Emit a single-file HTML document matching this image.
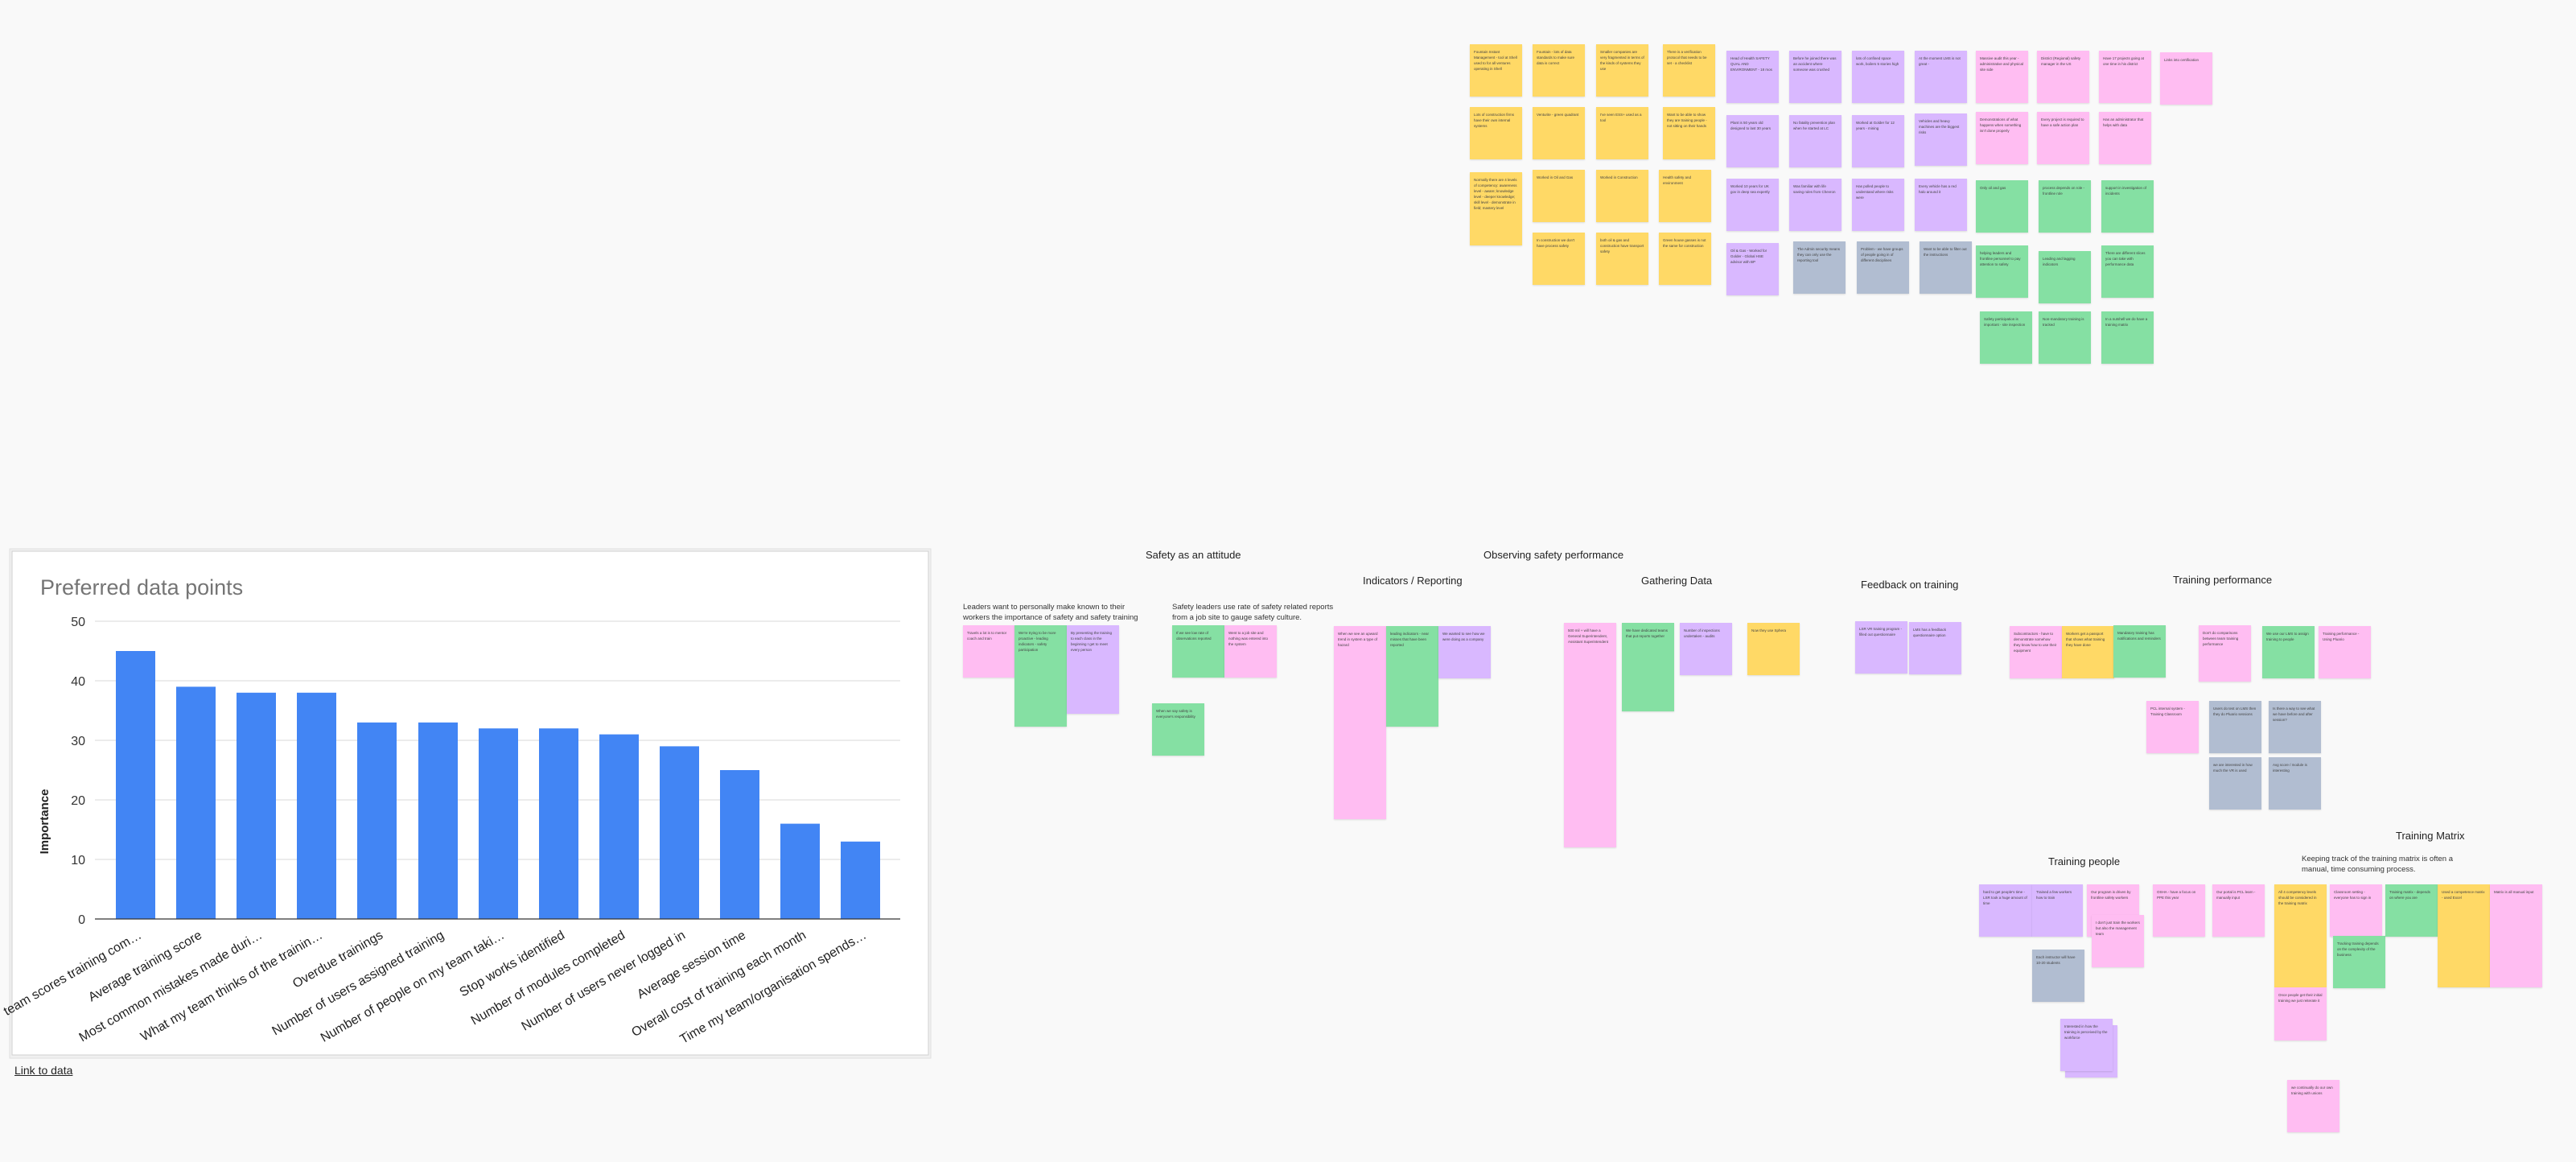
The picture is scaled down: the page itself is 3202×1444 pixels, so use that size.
<!DOCTYPE html>
<html><head><meta charset="utf-8">
<style>
html,body{margin:0;padding:0;}
body{width:3202px;height:1444px;background:#f9f9f9;position:relative;overflow:hidden;font-family:"Liberation Sans",sans-serif;}
.n{position:absolute;width:65px;height:65px;box-shadow:0 1px 2px rgba(0,0,0,0.12);font-size:4.5px;line-height:7px;color:#444;padding:6px 5px;box-sizing:border-box;overflow:hidden;}
.y{background:#ffd966}.p{background:#d9b8ff}.k{background:#ffbdf2}.g{background:#85e0a3}.s{background:#b1bdd1}
.h{position:absolute;font-size:13px;color:#222;white-space:nowrap;}
.t{position:absolute;font-size:9.5px;line-height:12.5px;color:#333;white-space:nowrap;}
</style></head><body>

<!-- chart -->
<svg style="position:absolute;left:0;top:680px" width="1160" height="660" font-family="Liberation Sans, sans-serif">
<rect x="12" y="2" width="1145" height="633" fill="#f0f0f0" stroke="#e0e0e0"/>
<rect x="15" y="5" width="1139" height="626" fill="#fff" stroke="#cfcfcf"/>
<text x="50" y="59" font-size="27" fill="#757575">Preferred data points</text>
<g stroke="#d9d9d9" stroke-width="1">
<line x1="118" x2="1119" y1="92" y2="92"/><line x1="118" x2="1119" y1="166" y2="166"/>
<line x1="118" x2="1119" y1="240" y2="240"/><line x1="118" x2="1119" y1="314" y2="314"/>
<line x1="118" x2="1119" y1="388" y2="388"/>
</g>
<g font-size="16" fill="#333" text-anchor="end">
<text x="106" y="98">50</text><text x="106" y="172">40</text><text x="106" y="246">30</text>
<text x="106" y="320">20</text><text x="106" y="394">10</text><text x="106" y="468">0</text>
</g>
<text transform="translate(60,341) rotate(-90)" text-anchor="middle" font-size="15" font-weight="bold" fill="#222">Importance</text>
<g fill="#4285f4">
<rect x="144" y="129" width="49" height="333"/>
<rect x="219" y="173.4" width="49" height="288.6"/>
<rect x="294" y="180.8" width="49" height="281.2"/>
<rect x="369" y="180.8" width="49" height="281.2"/>
<rect x="444" y="217.8" width="49" height="244.2"/>
<rect x="520" y="217.8" width="49" height="244.2"/>
<rect x="595" y="225.2" width="49" height="236.8"/>
<rect x="670" y="225.2" width="49" height="236.8"/>
<rect x="745" y="232.6" width="49" height="229.4"/>
<rect x="820" y="247.4" width="49" height="214.6"/>
<rect x="895" y="277" width="49" height="185"/>
<rect x="970" y="343.6" width="49" height="118.4"/>
<rect x="1045" y="365.8" width="49" height="96.2"/>
</g>
<line x1="118" x2="1119" y1="462" y2="462" stroke="#333" stroke-width="1.3"/>
<g font-size="16" fill="#222" text-anchor="end">
<text transform="translate(177,485) rotate(-30)">team scores training com…</text>
<text transform="translate(252,485) rotate(-30)">Average training score</text>
<text transform="translate(327,485) rotate(-30)">Most common mistakes made duri…</text>
<text transform="translate(402,485) rotate(-30)">What my team thinks of the trainin…</text>
<text transform="translate(477,485) rotate(-30)">Overdue trainings</text>
<text transform="translate(553,485) rotate(-30)">Number of users assigned training</text>
<text transform="translate(628,485) rotate(-30)">Number of people on my team taki…</text>
<text transform="translate(703,485) rotate(-30)">Stop works identified</text>
<text transform="translate(778,485) rotate(-30)">Number of modules completed</text>
<text transform="translate(853,485) rotate(-30)">Number of users never logged in</text>
<text transform="translate(928,485) rotate(-30)">Average session time</text>
<text transform="translate(1003,485) rotate(-30)">Overall cost of training each month</text>
<text transform="translate(1078,485) rotate(-30)">Time my team/organisation spends…</text>
</g>
</svg>
<div style="position:absolute;left:18px;top:1322px;font-size:14px;color:#222;text-decoration:underline">Link to data</div>

<!-- top cluster: yellow -->
<div class="n y" style="left:1827px;top:55px">Fountain Instant Management - tool at Shell used to for all ventures operating in Shell</div>
<div class="n y" style="left:1905px;top:55px">Fountain - lots of data standards to make sure data is correct</div>
<div class="n y" style="left:1984px;top:55px">Smaller companies are very fragmented in terms of the kinds of systems they use</div>
<div class="n y" style="left:2067px;top:55px">There is a verification protocol that needs to be set - a checklist</div>
<div class="n y" style="left:1827px;top:133px">Lots of construction firms have their own internal systems</div>
<div class="n y" style="left:1905px;top:133px">Venturite - green quadrant</div>
<div class="n y" style="left:1984px;top:133px">I've seen ESS+ used as a tool</div>
<div class="n y" style="left:2067px;top:133px">Want to be able to show they are training people - not sitting on their hands</div>
<div class="n y" style="left:1827px;top:214px;height:91px">Normally there are 4 levels of competency: awareness level - aware; knowledge level - deeper knowledge; skill level - demonstrate in field; mastery level</div>
<div class="n y" style="left:1905px;top:211px">Worked in Oil and Gas</div>
<div class="n y" style="left:1984px;top:211px">Worked in Construction</div>
<div class="n y" style="left:2062px;top:211px">Health safety and environment</div>
<div class="n y" style="left:1905px;top:289px">In construction we don't have process safety</div>
<div class="n y" style="left:1984px;top:289px">both oil &amp; gas and construction have transport safety</div>
<div class="n y" style="left:2062px;top:289px">Green house gasses is not the same for construction</div>

<!-- purple -->
<div class="n p" style="left:2146px;top:63px">Head of Health SAFETY QUAL AND ENVIRONMENT - 18 mos</div>
<div class="n p" style="left:2224px;top:63px">Before he joined there was an accident where someone was crushed</div>
<div class="n p" style="left:2302px;top:63px">lots of confined space work, boilers 5 stories high</div>
<div class="n p" style="left:2380px;top:63px">At the moment LMS is not great -</div>
<div class="n p" style="left:2146px;top:143px">Plant is 50 years old designed to last 30 years</div>
<div class="n p" style="left:2224px;top:143px">No fatality prevention plan when he started at LC</div>
<div class="n p" style="left:2302px;top:143px">Worked at Golder for 12 years - mining</div>
<div class="n p" style="left:2380px;top:141px">Vehicles and heavy machines are the biggest risks</div>
<div class="n p" style="left:2146px;top:222px">Worked 10 years for UK gov in deep sea expertly</div>
<div class="n p" style="left:2224px;top:222px">Was familiar with life saving rules from Chevron</div>
<div class="n p" style="left:2302px;top:222px">Has polled people to understand where risks were</div>
<div class="n p" style="left:2380px;top:222px">Every vehicle has a red halo around it</div>
<div class="n p" style="left:2146px;top:302px">Oil &amp; Gas - Worked for Golder - Global HSE advisor with BP</div>
<div class="n s" style="left:2229px;top:300px">The Admin security means they can only use the reporting tool</div>
<div class="n s" style="left:2308px;top:300px">Problem - we have groups of people going in of different disciplines</div>
<div class="n s" style="left:2386px;top:300px">Want to be able to filter out the instructions</div>

<!-- pink & green top -->
<div class="n k" style="left:2456px;top:63px">Massive audit this year - administrative and physical site side</div>
<div class="n k" style="left:2532px;top:63px">District (Regional) safety manager in the US</div>
<div class="n k" style="left:2609px;top:63px">Have 17 projects going at one time in his district</div>
<div class="n k" style="left:2685px;top:65px">Links into certification</div>
<div class="n k" style="left:2456px;top:139px">Demonstrations of what happens when something isn't done properly</div>
<div class="n k" style="left:2532px;top:139px">Every project is required to have a safe action plan</div>
<div class="n k" style="left:2609px;top:139px">Has an administrator that helps with data</div>
<div class="n g" style="left:2456px;top:224px">Only oil and gas</div>
<div class="n g" style="left:2534px;top:224px">process depends on role - frontline role</div>
<div class="n g" style="left:2612px;top:224px">support in investigation of incidents</div>
<div class="n g" style="left:2456px;top:305px">helping leaders and frontline personnel to pay attention to safety</div>
<div class="n g" style="left:2534px;top:312px">Leading and lagging indicators</div>
<div class="n g" style="left:2612px;top:305px">There are different slices you can take with performance data</div>
<div class="n g" style="left:2461px;top:387px">Safety participation is important - site inspection</div>
<div class="n g" style="left:2534px;top:387px">Non-mandatory training is tracked</div>
<div class="n g" style="left:2612px;top:387px">In a nutshell we do have a training matrix</div>

<!-- lower middle -->
<div class="h" style="left:1424px;top:682px">Safety as an attitude</div>
<div class="h" style="left:1844px;top:682px">Observing safety performance</div>
<div class="h" style="left:1694px;top:714px">Indicators / Reporting</div>
<div class="h" style="left:2040px;top:714px">Gathering Data</div>
<div class="t" style="left:1197px;top:749px">Leaders want to personally make known to their<br>workers the importance of safety and safety training</div>
<div class="t" style="left:1457px;top:749px">Safety leaders use rate of safety related reports<br>from a job site to gauge safety culture.</div>

<div class="n k" style="left:1197px;top:777px">Travels a lot is to mentor coach and train</div>
<div class="n g" style="left:1261px;top:777px;height:126px">We're trying to be more proactive - leading indicators - safety participation</div>
<div class="n p" style="left:1326px;top:777px;height:110px">By presenting the training to each class in the beginning I get to meet every person</div>
<div class="n g" style="left:1457px;top:777px">If we see low rate of observations reported</div>
<div class="n k" style="left:1522px;top:777px">Went to a job site and nothing was entered into the system</div>
<div class="n g" style="left:1432px;top:874px">When we say safety is everyone's responsibility</div>

<div class="n k" style="left:1658px;top:778px;height:240px">When we see an upward trend in system a type of hazard</div>
<div class="n g" style="left:1723px;top:778px;height:125px">leading indicators - near misses that have been reported</div>
<div class="n p" style="left:1788px;top:778px">We wanted to see how we were doing as a company</div>

<div class="n k" style="left:1944px;top:774px;height:279px">500 mil + will have a General Superintendent, Assistant Superintendent</div>
<div class="n g" style="left:2016px;top:774px;height:110px">We have dedicated teams that put reports together</div>
<div class="n p" style="left:2088px;top:774px">Number of inspections undertaken - audits</div>
<div class="n y" style="left:2172px;top:774px">Now they use Sphera</div>

<div class="h" style="left:2313px;top:719px">Feedback on training</div>
<div class="n p" style="left:2306px;top:772px">LSR VR training program - filled out questionnaire</div>
<div class="n p" style="left:2373px;top:773px">LMS has a feedback questionnaire option</div>

<div class="h" style="left:2701px;top:713px">Training performance</div>
<div class="n k" style="left:2498px;top:778px">Subcontractors - have to demonstrate somehow they know how to use their equipment</div>
<div class="n y" style="left:2563px;top:778px">Workers get a passport that shows what training they have done</div>
<div class="n g" style="left:2627px;top:777px">Mandatory training has notifications and reminders</div>
<div class="n k" style="left:2733px;top:777px;height:70px">Don't do comparisons between team training performance</div>
<div class="n g" style="left:2812px;top:778px">We use our LMS to assign training to people</div>
<div class="n k" style="left:2882px;top:778px">Training performance - Using Pluario</div>
<div class="n k" style="left:2668px;top:871px">PCL internal system - Training Classroom</div>
<div class="n s" style="left:2746px;top:871px">Users do test on LMS then they do Pluario sessions</div>
<div class="n s" style="left:2820px;top:871px">Is there a way to see what we have before and after session?</div>
<div class="n s" style="left:2746px;top:941px">we are interested in how much the VR is used</div>
<div class="n s" style="left:2820px;top:941px">Avg score / module is interesting</div>

<!-- bottom right -->
<div class="h" style="left:2978px;top:1031px">Training Matrix</div>
<div class="h" style="left:2546px;top:1063px">Training people</div>
<div class="t" style="left:2861px;top:1062px">Keeping track of the training matrix is often a<br>manual, time consuming process.</div>

<div class="n p" style="left:2460px;top:1099px;width:66px">hard to get people's time - LSR took a huge amount of time</div>
<div class="n p" style="left:2526px;top:1099px;width:63px">Trained a few workers how to train</div>
<div class="n k" style="left:2594px;top:1099px">Our program is driven by frontline safety workers</div>
<div class="n k" style="left:2600px;top:1137px">I don't just train the workers but also the management team</div>
<div class="n s" style="left:2526px;top:1180px">Each instructor will have 10-20 students</div>
<div class="n p" style="left:2567px;top:1274px"></div>
<div class="n p" style="left:2561px;top:1266px">Interested in how the training is perceived by the workforce</div>
<div class="n k" style="left:2676px;top:1099px">OSHA - have a focus on PPE this year</div>
<div class="n k" style="left:2750px;top:1099px">Our portal is PCL learn - manually input</div>
<div class="n y" style="left:2827px;top:1099px;height:128px">All 4 competency levels should be considered in the training matrix</div>
<div class="n k" style="left:2827px;top:1227px;height:66px">Once people get their initial training we just reiterate it</div>
<div class="n k" style="left:2896px;top:1099px">Classroom setting - everyone has to sign in</div>
<div class="n g" style="left:2900px;top:1163px">Tracking training depends on the complexity of the business</div>
<div class="n g" style="left:2965px;top:1099px">Training matrix - depends on where you are</div>
<div class="n y" style="left:3030px;top:1099px;height:128px">Used a competence matrix - used Excel</div>
<div class="n k" style="left:3095px;top:1099px;height:128px">Matrix is all manual input</div>
<div class="n k" style="left:2843px;top:1342px">we continually do our own training with unions</div>

</body></html>
